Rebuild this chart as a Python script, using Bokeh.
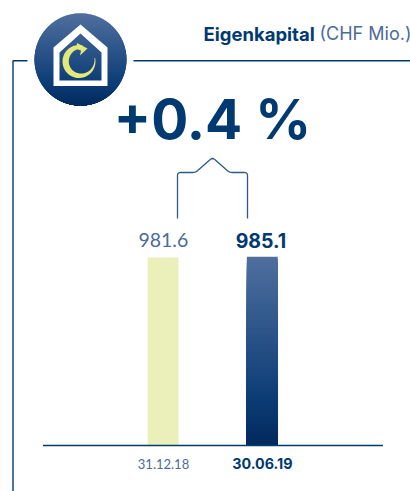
from bokeh.plotting import figure
from bokeh.models import Range1d, ColumnDataSource
from bokeh.core.properties import value
from bokeh.embed import file_html
from bokeh.resources import INLINE
import math

categories = ["31.12.18", "30.06.19"]
values = [981.6, 985.1]
value_labels = ["981.6", "985.1"]
title_bold = "Eigenkapital"
title_light = " (CHF Mio.)"
change_label = "+0.4 %"
NAVY = "#003a70"
MID = "#4a6c9b"

def mix(a, b, t):
    ca = [int(a[i:i+2], 16) for i in (1, 3, 5)]
    cb = [int(b[i:i+2], 16) for i in (1, 3, 5)]
    return "#%02x%02x%02x" % tuple(round(x + (y - x) * t) for x, y in zip(ca, cb))

GRAD_TOP, GRAD_MID, GRAD_BOT = "#4f6f9e", "#0f3f78", "#002a5e"
def grad(t):
    return mix(GRAD_TOP, GRAD_MID, t / 0.72) if t < 0.72 else mix(GRAD_MID, GRAD_BOT, (t - 0.72) / 0.28)

W, H = 410, 491
p = figure(width=W, height=H, output_backend="svg", toolbar_location=None,
           x_range=Range1d(0, 410), y_range=Range1d(-240.2, 2323.8),
           min_border=0, outline_line_color=None, background_fill_color="white")
p.axis.visible = False
p.grid.visible = False
p.extra_y_ranges = {"px": Range1d(491, 0)}
PX = dict(y_range_name="px")

# frame line
p.line([27, 12.5, 12.5], [60.3, 60.3, 491], line_color=NAVY, line_width=1.4, **PX)
p.line([133, 410], [60.3, 60.3], line_color=NAVY, line_width=1.4, **PX)

# icon disc with a vertical gradient
cx, cy, r = 80, 59, 46
p.scatter([cx], [cy], size=2 * r, marker="circle", fill_color="#1a4a82", line_color=None, **PX)
n = 2 * r
lefts, rights, tops, bottoms, cs = [], [], [], [], []
for i in range(n):
    y0 = cy - r + i
    ym = y0 + 0.5
    half = math.sqrt(max(r * r - (ym - cy) ** 2, 0))
    lefts.append(cx - half); rights.append(cx + half)
    tops.append(y0); bottoms.append(y0 + 1.4)
    cs.append(grad(i / n))
p.quad(left=lefts, right=rights, top=tops, bottom=bottoms, fill_color=cs, line_color=None, **PX)

# house outline
p.multi_polygons(xs=[[[[80, 107, 107, 53, 53], [80, 59, 59, 101, 101]]]],
                 ys=[[[[24, 47, 85.5, 85.5, 47], [33, 52, 80, 80, 52]]]],
                 fill_color="white", line_color=None, **PX)

# circular arrow: a crescent ring with an arrowhead
rc, ryc, R = 78.5, 61, 16.5
outer, inner = [], []
for a in range(-13, 284, 5):
    t = math.radians(a)
    prog = (a + 13) / 296
    thick = 0.7 + 5.6 * math.sin(math.pi * min(prog, 1) ** 1.2 * 0.86)
    outer.append((rc + R * math.cos(t), ryc + R * math.sin(t)))
    inner.append((rc + (R - thick) * math.cos(t), ryc + (R - thick) * math.sin(t)))
ring = outer + inner[::-1]
YEL = "#e4e779"
p.patch([q[0] for q in ring], [q[1] for q in ring], fill_color=YEL, line_color=None, **PX)
p.patch([76.5, 87, 79.5, 80.5, 76], [42.5, 48, 55, 50, 48.5], fill_color=YEL, line_color=None, **PX)

# bracket
def rounded(pts, rad=3):
    out = [pts[0]]
    def to(f, t):
        d = math.dist(f, t); k = min(rad / d, .5)
        return (f[0] + (t[0] - f[0]) * k, f[1] + (t[1] - f[1]) * k)
    for a, b, c in zip(pts, pts[1:], pts[2:]):
        a1, c1 = to(b, a), to(b, c)
        for s in [0, .25, .5, .75, 1]:
            out.append(((1-s)**2*a1[0] + 2*s*(1-s)*b[0] + s*s*c1[0],
                        (1-s)**2*a1[1] + 2*s*(1-s)*b[1] + s*s*c1[1]))
    out.append(pts[-1])
    return out
br = rounded([(177, 218), (177, 172), (195, 172), (212, 157), (229, 172), (247, 172), (247, 218)])
p.line([q[0] for q in br], [q[1] for q in br], line_color="#2d5a8c", line_width=1.3, **PX)

# bars from the data
bx = [162.6, 261.8]
bw = 30.8
p.vbar(x=[bx[0]], width=bw, bottom=0, top=[values[0]], fill_color="#ebefba", line_color=None)
N = 95
src = ColumnDataSource(dict(
    x=[bx[1]] * N,
    bottom=[0] * N,
    top=[values[1] * (1 - i / N) for i in range(N)],
    color=[grad(i / (N - 1)) for i in range(N)]))
p.vbar(x="x", width=bw, bottom="bottom", top="top", fill_color="color", line_color=None, source=src)

# baseline
p.line([42.5, 382.5], [445, 445], line_color=NAVY, line_width=1.4, **PX)

def label(x, y, s, size, color, style="normal", align="center", font="Lato"):
    # the SVG backend sets text about 0.42 em lower than the given baseline
    p.text([x], [y - 0.42 * size], text=[s], text_font=value(font), text_font_size=f"{size}px",
           text_font_style=style, text_color=color, text_align=align,
           text_baseline="alphabetic", **PX)

label(162.8, 248, value_labels[0], 19.5, MID)
label(260.4, 248, value_labels[1], 19.5, NAVY, "bold", font="Inter")
label(163, 469, categories[0], 13, MID)
label(261.8, 469, categories[1], 14.3, NAVY, "bold", font="Inter")
label(212, 141.5, change_label, 55, NAVY, "bold", font="Inter")
label(203, 41, title_bold, 18.5, NAVY, "bold", "left", font="Inter")
label(319, 41, title_light, 18, MID, "normal", "left", font="Inter")

open("out.html", "w").write(file_html(p, INLINE))
